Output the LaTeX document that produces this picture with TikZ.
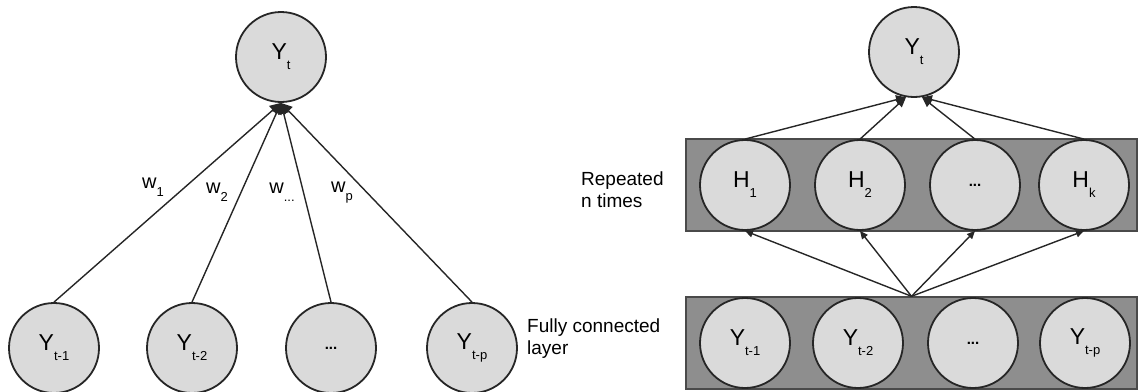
\documentclass[tikz,border=0pt]{standalone}
\usepackage{fontspec}
\setmainfont{Liberation Sans}
\usetikzlibrary{arrows.meta}
\definecolor{circfill}{HTML}{DADADA}
\definecolor{bandfill}{HTML}{8E8E8E}
\definecolor{bandedge}{HTML}{4A4A4A}
\definecolor{linec}{HTML}{262626}
\newcommand\nodelab[2]{\fontsize{23}{23}\selectfont #1\raisebox{-10pt}{\fontsize{13}{13}\selectfont #2}}
\newcommand\wlab[1]{\fontsize{20}{20}\selectfont w\raisebox{-8pt}{\fontsize{13}{13}\selectfont #1}}
\newcommand\dotslab{\fontsize{15}{15}\selectfont\bfseries ...}
\begin{document}
\begin{tikzpicture}[x=1pt,y=-1pt,
  neuron/.style={circle, draw=linec, line width=1.8pt, fill=circfill, minimum size=90pt, inner sep=0pt},
  band/.style={rectangle, draw=bandedge, line width=1.4pt, fill=bandfill, minimum width=451pt, minimum height=92pt, inner sep=0pt},
  conn/.style={draw=linec, line width=1.4pt},
  arrbig/.style={conn, -{Triangle[length=11pt,width=11pt]}},
  arrmid/.style={conn, -{Triangle[length=10pt,width=9pt]}},
  arrsmall/.style={conn, -{Triangle[length=8pt,width=7pt]}},
  lbl/.style={font=\fontsize{19}{22}\selectfont, align=left, inner sep=0pt, anchor=north west},
  wl/.style={inner sep=0pt},
]
\useasboundingbox (0,0) rectangle (1138,391);
% ---------- left diagram ----------
\node[neuron] (yt) at (281,57) {\nodelab{Y}{t}};
\node[neuron] (a1) at (54,348) {\nodelab{Y}{t-1}};
\node[neuron] (a2) at (192,348) {\nodelab{Y}{t-2}};
\node[neuron] (a3) at (331,348) {\dotslab};
\node[neuron] (a4) at (472,348) {\nodelab{Y}{t-p}};
\foreach \n in {a1,a2,a3,a4} \draw[arrbig] (\n.north) -- (yt.south);
\node[wl] (w1) at (153,187) {\wlab{1}};
\node[wl] (w2) at (217,192) {\wlab{2}};
\node[wl] (w3) at (282,192) {\wlab{...}};
\node[wl] (w4) at (342,193) {\wlab{p}};
\node[lbl] (fc) at (527,319) {Fully connected\\layer};
% ---------- right diagram ----------
\node[band] (hband) at (911.5,185) {};
\node[band] (iband) at (911.5,343) {};
\node[neuron] (ryt) at (914,52) {\nodelab{Y}{t}};
\node[neuron] (h1) at (745,185) {\nodelab{H}{1}};
\node[neuron] (h2) at (860,185) {\nodelab{H}{2}};
\node[neuron] (h3) at (975,185) {\dotslab};
\node[neuron] (h4) at (1084,185) {\nodelab{H}{k}};
\node[neuron] (i1) at (745,343) {\nodelab{Y}{t-1}};
\node[neuron] (i2) at (858,343) {\nodelab{Y}{t-2}};
\node[neuron] (i3) at (973,343) {\dotslab};
\node[neuron] (i4) at (1085,343) {\nodelab{Y}{t-p}};
\draw[arrmid] (h1.north) -- (ryt.260);
\draw[arrmid] (h2.north) -- (ryt.260);
\draw[arrmid] (h3.north) -- (ryt.280);
\draw[arrmid] (h4.north) -- (ryt.280);
\foreach \n in {h1,h2,h3,h4} \draw[arrsmall] (iband.north) -- (\n.south);
\node[lbl] (rep) at (581,172) {Repeated\\n times};
\end{tikzpicture}
\end{document}
